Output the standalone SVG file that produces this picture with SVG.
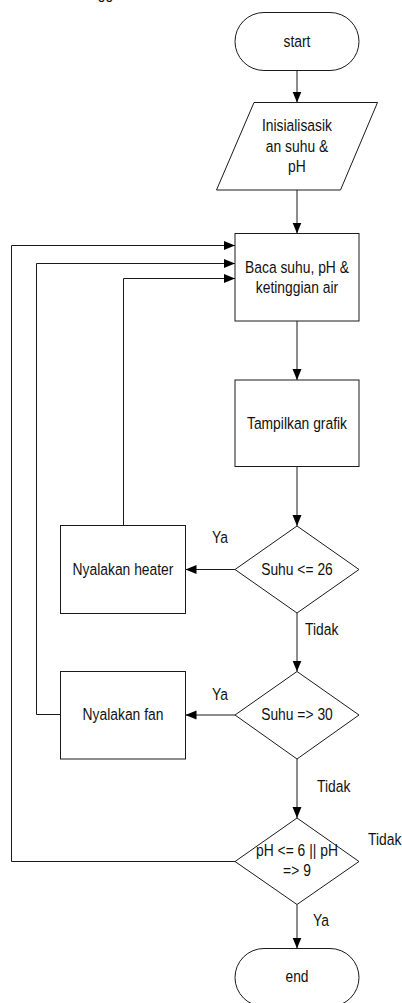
<svg xmlns="http://www.w3.org/2000/svg" width="402" height="1003" viewBox="0 0 402 1003">
<defs>
<marker id="arr" markerUnits="userSpaceOnUse" markerWidth="12" markerHeight="10" refX="11" refY="4.5" orient="auto">
<path d="M0,0 L11,4.5 L0,9 z" fill="#000"/>
</marker>
<style>
.n{fill:#fff;stroke:#1a1a1a;stroke-width:1}
.c{fill:none;stroke:#1a1a1a;stroke-width:1;marker-end:url(#arr)}
text{font-family:"Liberation Sans",Arial,sans-serif;font-size:17px;fill:#111}
.m{text-anchor:middle}
</style>
</defs>
<rect width="402" height="1003" fill="#fff"/>
<text transform="scale(0.815 1)" x="120" y="-1.5">gg</text>
<g id="connectors">
<line class="c" x1="297" y1="70.5" x2="297" y2="102.5"/>
<line class="c" x1="297" y1="190" x2="297" y2="233.5"/>
<line class="c" x1="297" y1="321" x2="297" y2="380"/>
<line class="c" x1="297" y1="466.5" x2="297" y2="526"/>
<line class="c" x1="235" y1="569.5" x2="185.5" y2="569.5"/>
<line class="c" x1="297" y1="613" x2="297" y2="671.5"/>
<line class="c" x1="235" y1="715" x2="185.5" y2="715"/>
<line class="c" x1="297" y1="759" x2="297" y2="818"/>
<line class="c" x1="297" y1="904.5" x2="297" y2="948.5"/>
<polyline class="c" points="123.5,525.5 123.5,278.5 235,278.5"/>
<polyline class="c" points="60.5,714.5 36.5,714.5 36.5,263.5 235,263.5"/>
<polyline class="c" points="235,861.5 11.5,861.5 11.5,245.5 235,245.5"/>
<g transform="scale(0.815 1)">
<text x="260.1" y="543">Ya</text>
<text x="374.2" y="635">Tidak</text>
<text x="260.1" y="700.5">Ya</text>
<text x="389" y="792.5">Tidak</text>
<text x="451.5" y="845">Tidak</text>
<text x="384" y="926.5">Ya</text>
</g>
</g>
<g id="start">
<rect class="n" x="235" y="12.5" width="124" height="58" rx="29" ry="29"/>
<text class="m" transform="scale(0.815 1)" x="364.4" y="47.5">start</text>
</g>
<g id="init">
<polygon class="n" points="254,102.5 377.5,102.5 340.5,190 216.5,190"/>
<g transform="scale(0.815 1)">
<text class="m" x="364.4" y="131.5">Inisialisasik</text>
<text class="m" x="364.4" y="152">an suhu &amp;</text>
<text class="m" x="364.4" y="172.5">pH</text>
</g>
</g>
<g id="baca">
<rect class="n" x="235" y="233.5" width="124" height="87.5"/>
<g transform="scale(0.815 1)">
<text class="m" x="364.4" y="273.5">Baca suhu, pH &amp;</text>
<text class="m" x="364.4" y="293.5">ketinggian air</text>
</g>
</g>
<g id="tampil">
<rect class="n" x="235" y="380" width="124" height="86.5"/>
<text class="m" transform="scale(0.815 1)" x="364.4" y="429">Tampilkan grafik</text>
</g>
<g id="d1">
<polygon class="n" points="297,526 359,569.5 297,613 235,569.5"/>
<text class="m" transform="scale(0.815 1)" x="364.4" y="575">Suhu &lt;= 26</text>
</g>
<g id="heater">
<rect class="n" x="60.5" y="525.5" width="125" height="88"/>
<text class="m" transform="scale(0.815 1)" x="150.9" y="575">Nyalakan heater</text>
</g>
<g id="d2">
<polygon class="n" points="297,671.5 359,715 297,759 235,715"/>
<text class="m" transform="scale(0.815 1)" x="364.4" y="720">Suhu =&gt; 30</text>
</g>
<g id="fan">
<rect class="n" x="60.5" y="671.5" width="125" height="87.5"/>
<text class="m" transform="scale(0.815 1)" x="150.9" y="720">Nyalakan fan</text>
</g>
<g id="d3">
<polygon class="n" points="297,818 359,861.5 297,904.5 235,861.5"/>
<g transform="scale(0.815 1)">
<text class="m" x="364.4" y="856.5">pH &lt;= 6 || pH</text>
<text class="m" x="364.4" y="876">=&gt; 9</text>
</g>
</g>
<g id="end">
<rect class="n" x="235" y="948.5" width="124" height="58" rx="29" ry="29"/>
<text class="m" transform="scale(0.815 1)" x="364.4" y="982.5">end</text>
</g>
</svg>
